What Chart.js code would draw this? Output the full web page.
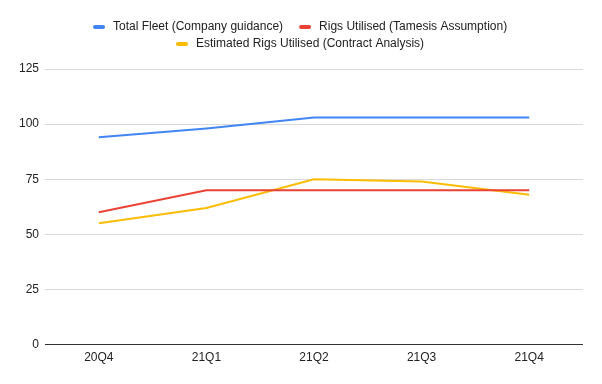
<!DOCTYPE html>
<html>
<head>
<meta charset="utf-8">
<script src="https://cdn.jsdelivr.net/npm/chart.js@4"></script>
<style>
html, body { margin: 0; padding: 0; background: #fff; }
#wrap { width: 602px; height: 384px; }
</style>
</head>
<body>
<div id="wrap"><canvas id="lineChart" width="602" height="384"></canvas></div>
<script>
var quarters = ["20Q4", "21Q1", "21Q2", "21Q3", "21Q4"];
var totalFleet = [94, 98, 103, 103, 103];
var rigsUtilised = [60, 70, 70, 70, 70];
var estimatedRigs = [55, 62, 75, 74, 68];
var yTicks = [0, 25, 50, 75, 100, 125];

var FONT = "'Liberation Sans', Arial, sans-serif";
Chart.defaults.font.family = FONT;
Chart.defaults.font.size = 12;
Chart.defaults.color = '#222';

// google-sheets style legend: two centred rows, short thick markers
var sheetLegend = {
  id: 'sheetLegend',
  afterDraw: function (chart) {
    var ctx = chart.ctx;
    var sets = chart.data.datasets;
    var rows = [[0, 1], [2]];
    var rowY = [27, 44];
    ctx.save();
    ctx.font = '12px ' + FONT;
    ctx.textBaseline = 'middle';
    rows.forEach(function (row, r) {
      var widths = row.map(function (i) { return 20 + ctx.measureText(sets[i].label).width; });
      var total = widths.reduce(function (a, b) { return a + b; }, 0) + 16 * (row.length - 1);
      var x = Math.round((chart.width - total) / 2) - 1;
      row.forEach(function (i, k) {
        ctx.fillStyle = sets[i].borderColor;
        ctx.beginPath();
        ctx.roundRect(x, rowY[r] - 2, 12, 4, 2);
        ctx.fill();
        ctx.fillStyle = '#222';
        ctx.fillText(sets[i].label, x + 20, rowY[r]);
        x += widths[k] + 16;
      });
    });
    ctx.restore();
  }
};

var ctxL = document.getElementById("lineChart").getContext('2d');
var myLineChart = new Chart(ctxL, {
type: 'line',
data: {
labels: quarters,
datasets: [{
label: "Total Fleet (Company guidance)",
data: totalFleet,
borderColor: '#4285f4',
backgroundColor: '#4285f4',
borderWidth: 2
},
{
label: "Rigs Utilised (Tamesis Assumption)",
data: rigsUtilised,
borderColor: '#ea4335',
backgroundColor: '#ea4335',
borderWidth: 2
},
{
label: "Estimated Rigs Utilised (Contract Analysis)",
data: estimatedRigs,
borderColor: '#fbbc04',
backgroundColor: '#fbbc04',
borderWidth: 2
}
]
},
plugins: [sheetLegend],
options: {
responsive: false,
animation: false,
elements: { point: { radius: 0 }, line: { tension: 0 } },
layout: { padding: { left: 13, right: 19, top: 69, bottom: 13 } },
plugins: {
legend: { display: false },
tooltip: { enabled: false }
},
scales: {
x: {
offset: true,
grid: { display: false, drawTicks: false },
border: { display: false },
ticks: { padding: 6, color: '#222', maxRotation: 0 }
},
y: {
min: 0,
max: 125,
afterBuildTicks: function (axis) {
axis.ticks = yTicks.map(function (v) { return { value: v }; });
},
border: { display: false },
grid: {
drawTicks: false,
color: function (c) { return c.tick.value === 0 ? '#333' : '#d9d9d9'; }
},
ticks: { padding: 6, color: '#222' }
}
}
}
});
</script>
</body>
</html>
